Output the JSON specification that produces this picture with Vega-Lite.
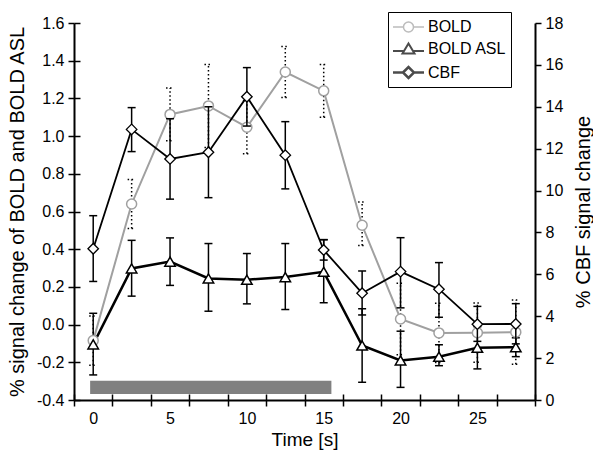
{
  "$schema": "https://vega.github.io/schema/vega-lite/v6.json",
  "width": 461,
  "height": 377,
  "autosize": {"type": "none"},
  "padding": {"left": 74, "top": 23, "right": 58, "bottom": 50},
  "background": "white",
  "config": {
    "font": "Liberation Sans",
    "view": {"stroke": null},
    "axis": {
      "domainColor": "black", "tickColor": "black", "labelColor": "black", "titleColor": "black",
      "grid": true, "gridColor": "black", "gridWidth": 1.5, "gridOpacity": 1, "gridDash": [6, 2000],
      "domainWidth": 2, "tickWidth": 1.5, "tickSize": 6,
      "labelFontSize": 16, "titleFontSize": 20, "titleFontWeight": "normal", "labelOverlap": false
    }
  },
  "datasets": {
    "d": [
      {"s": "BOLD", "t": 0, "v": -0.085, "lo": -0.215, "hi": 0.045},
      {"s": "BOLD", "t": 2.5, "v": 0.64, "lo": 0.51, "hi": 0.77},
      {"s": "BOLD", "t": 5, "v": 1.115, "lo": 0.975, "hi": 1.255},
      {"s": "BOLD", "t": 7.5, "v": 1.16, "lo": 0.94, "hi": 1.38},
      {"s": "BOLD", "t": 10, "v": 1.047, "lo": 0.907, "hi": 1.187},
      {"s": "BOLD", "t": 12.5, "v": 1.34, "lo": 1.205, "hi": 1.475},
      {"s": "BOLD", "t": 15, "v": 1.24, "lo": 1.1, "hi": 1.38},
      {"s": "BOLD", "t": 17.5, "v": 0.527, "lo": 0.42, "hi": 0.65},
      {"s": "BOLD", "t": 20, "v": 0.03, "lo": -0.16, "hi": 0.22},
      {"s": "BOLD", "t": 22.5, "v": -0.044, "lo": -0.201, "hi": 0.113},
      {"s": "BOLD", "t": 25, "v": -0.043, "lo": -0.2, "hi": 0.114},
      {"s": "BOLD", "t": 27.5, "v": -0.04, "lo": -0.21, "hi": 0.13},
      {"s": "BOLD_ASL", "t": 0, "v": -0.105, "lo": -0.267, "hi": 0.06},
      {"s": "BOLD_ASL", "t": 2.5, "v": 0.298, "lo": 0.151, "hi": 0.447},
      {"s": "BOLD_ASL", "t": 5, "v": 0.334, "lo": 0.208, "hi": 0.46},
      {"s": "BOLD_ASL", "t": 7.5, "v": 0.245, "lo": 0.071, "hi": 0.43},
      {"s": "BOLD_ASL", "t": 10, "v": 0.238, "lo": 0.11, "hi": 0.377},
      {"s": "BOLD_ASL", "t": 12.5, "v": 0.252, "lo": 0.08, "hi": 0.43},
      {"s": "BOLD_ASL", "t": 15, "v": 0.28, "lo": 0.116, "hi": 0.451},
      {"s": "BOLD_ASL", "t": 17.5, "v": -0.111, "lo": -0.306, "hi": 0.084},
      {"s": "BOLD_ASL", "t": 20, "v": -0.19, "lo": -0.333, "hi": -0.035},
      {"s": "BOLD_ASL", "t": 22.5, "v": -0.17, "lo": -0.218, "hi": -0.107},
      {"s": "BOLD_ASL", "t": 25, "v": -0.123, "lo": -0.235, "hi": -0.011},
      {"s": "BOLD_ASL", "t": 27.5, "v": -0.12, "lo": -0.17, "hi": -0.07},
      {"s": "CBF", "t": 0, "v": 7.22, "lo": 5.66, "hi": 8.8},
      {"s": "CBF", "t": 2.5, "v": 12.92, "lo": 11.86, "hi": 13.96},
      {"s": "CBF", "t": 5, "v": 11.51, "lo": 9.59, "hi": 13.43},
      {"s": "CBF", "t": 7.5, "v": 11.83, "lo": 9.66, "hi": 14.0},
      {"s": "CBF", "t": 10, "v": 14.48, "lo": 13.08, "hi": 15.87},
      {"s": "CBF", "t": 12.5, "v": 11.69, "lo": 10.08, "hi": 13.29},
      {"s": "CBF", "t": 15, "v": 7.16, "lo": 6.68, "hi": 7.65},
      {"s": "CBF", "t": 17.5, "v": 5.1, "lo": 4.06, "hi": 6.16},
      {"s": "CBF", "t": 20, "v": 6.13, "lo": 4.4, "hi": 7.75},
      {"s": "CBF", "t": 22.5, "v": 5.29, "lo": 3.95, "hi": 6.56},
      {"s": "CBF", "t": 25, "v": 3.62, "lo": 2.8, "hi": 4.47},
      {"s": "CBF", "t": 27.5, "v": 3.63, "lo": 2.68, "hi": 4.6}
    ]
  },
  "data": {"name": "d"},
  "layer": [
    {
      "layer": [
        {
          "data": {"values": [{"x1": -0.2, "x2": 15.5, "y1": -0.298, "y2": -0.368}]},
          "mark": {"type": "rect", "fill": "#808080"},
          "encoding": {
            "x": {
              "field": "x1", "type": "quantitative", "title": "Time [s]",
              "scale": {"domain": [-1.25, 28.75], "nice": false, "zero": false},
              "axis": {
                "values": [-1.25, 1.25, 3.75, 6.25, 8.75, 11.25, 13.75, 16.25, 18.75, 21.25, 23.75, 26.25, 28.75],
                "tickCount": 40,
                "labelExpr": "datum.value == 1.25 ? '0' : datum.value == 6.25 ? '5' : datum.value == 11.25 ? '10' : datum.value == 16.25 ? '15' : datum.value == 21.25 ? '20' : datum.value == 26.25 ? '25' : ''",
                "labelOffset": -19.2,
                "labelPadding": 4,
                "titlePadding": 4,
                "titleFontSize": 19,
                "labelFlush": false,
                "labelBound": false,
                "gridDash": [6, 371],
                "gridDashOffset": 6
              }
            },
            "x2": {"field": "x2"},
            "y": {
              "field": "y1", "type": "quantitative", "title": "% signal change of BOLD and BOLD ASL",
              "scale": {"domain": [-0.4, 1.6], "nice": false, "zero": false},
              "axis": {
                "values": [-0.4, -0.2, 0, 0.2, 0.4, 0.6, 0.8, 1.0, 1.2, 1.4, 1.6],
                "tickCount": 40,
                "labelExpr": "replace(format(datum.value, '.1f'), '\u2212', '-')",
                "labelPadding": 4,
                "titlePadding": 9
              }
            },
            "y2": {"field": "y2"}
          }
        },
        {
          "transform": [{"filter": "datum.s == 'BOLD'"}],
          "mark": {"type": "rule", "color": "black", "strokeWidth": 1.5, "strokeDash": [1.5, 2.5]},
          "encoding": {
            "x": {"field": "t", "type": "quantitative", "title": "Time [s]"},
            "y": {"field": "lo", "type": "quantitative", "title": "% signal change of BOLD and BOLD ASL"},
            "y2": {"field": "hi"}
          }
        },
        {
          "transform": [{"filter": "datum.s == 'BOLD'"}],
          "mark": {"type": "rule", "color": "black", "strokeWidth": 1.5, "strokeDash": [1.5, 2.5], "xOffset": -4, "x2Offset": 4},
          "encoding": {
            "x": {"field": "t", "type": "quantitative", "title": "Time [s]"},
            "x2": {"field": "t"},
            "y": {"field": "lo", "type": "quantitative", "title": "% signal change of BOLD and BOLD ASL"}
          }
        },
        {
          "transform": [{"filter": "datum.s == 'BOLD'"}],
          "mark": {"type": "rule", "color": "black", "strokeWidth": 1.5, "strokeDash": [1.5, 2.5], "xOffset": -4, "x2Offset": 4},
          "encoding": {
            "x": {"field": "t", "type": "quantitative", "title": "Time [s]"},
            "x2": {"field": "t"},
            "y": {"field": "hi", "type": "quantitative", "title": "% signal change of BOLD and BOLD ASL"}
          }
        },
        {
          "transform": [{"filter": "datum.s == 'BOLD_ASL'"}],
          "mark": {"type": "rule", "color": "black", "strokeWidth": 1.5},
          "encoding": {
            "x": {"field": "t", "type": "quantitative", "title": "Time [s]"},
            "y": {"field": "lo", "type": "quantitative", "title": "% signal change of BOLD and BOLD ASL"},
            "y2": {"field": "hi"}
          }
        },
        {
          "transform": [{"filter": "datum.s == 'BOLD_ASL'"}],
          "mark": {"type": "rule", "color": "black", "strokeWidth": 1.5, "xOffset": -4, "x2Offset": 4},
          "encoding": {
            "x": {"field": "t", "type": "quantitative", "title": "Time [s]"},
            "x2": {"field": "t"},
            "y": {"field": "lo", "type": "quantitative", "title": "% signal change of BOLD and BOLD ASL"}
          }
        },
        {
          "transform": [{"filter": "datum.s == 'BOLD_ASL'"}],
          "mark": {"type": "rule", "color": "black", "strokeWidth": 1.5, "xOffset": -4, "x2Offset": 4},
          "encoding": {
            "x": {"field": "t", "type": "quantitative", "title": "Time [s]"},
            "x2": {"field": "t"},
            "y": {"field": "hi", "type": "quantitative", "title": "% signal change of BOLD and BOLD ASL"}
          }
        },
        {
          "transform": [{"filter": "datum.s == 'BOLD'"}],
          "mark": {"type": "line", "color": "#a0a0a0", "strokeWidth": 2},
          "encoding": {
            "x": {"field": "t", "type": "quantitative", "title": "Time [s]"},
            "y": {"field": "v", "type": "quantitative", "title": "% signal change of BOLD and BOLD ASL"}
          }
        },
        {
          "transform": [{"filter": "datum.s == 'BOLD_ASL'"}],
          "mark": {"type": "line", "color": "black", "strokeWidth": 2.5},
          "encoding": {
            "x": {"field": "t", "type": "quantitative", "title": "Time [s]"},
            "y": {"field": "v", "type": "quantitative", "title": "% signal change of BOLD and BOLD ASL"}
          }
        },
        {
          "transform": [{"filter": "datum.s == 'BOLD'"}],
          "mark": {"type": "point", "shape": "circle", "size": 100, "filled": true, "fill": "white", "stroke": "#a0a0a0", "strokeWidth": 1.5, "opacity": 1},
          "encoding": {
            "x": {"field": "t", "type": "quantitative", "title": "Time [s]"},
            "y": {"field": "v", "type": "quantitative", "title": "% signal change of BOLD and BOLD ASL"}
          }
        },
        {
          "transform": [{"filter": "datum.s == 'BOLD_ASL'"}],
          "mark": {"type": "point", "shape": "triangle-up", "size": 110, "filled": true, "fill": "white", "stroke": "black", "strokeWidth": 1.5, "opacity": 1},
          "encoding": {
            "x": {"field": "t", "type": "quantitative", "title": "Time [s]"},
            "y": {"field": "v", "type": "quantitative", "title": "% signal change of BOLD and BOLD ASL"}
          }
        }
      ]
    },
    {
      "layer": [
        {
          "transform": [{"filter": "datum.s == 'CBF'"}],
          "mark": {"type": "rule", "color": "black", "strokeWidth": 1.5},
          "encoding": {
            "x": {"field": "t", "type": "quantitative", "title": "Time [s]"},
            "y": {
              "field": "lo", "type": "quantitative", "title": "% CBF signal change",
              "scale": {"domain": [0, 18], "nice": false, "zero": false},
              "axis": {
                "orient": "right",
                "values": [0, 2, 4, 6, 8, 10, 12, 14, 16, 18],
                "tickCount": 40,
                "format": "d",
                "labelPadding": 4,
                "titlePadding": 11,
                "titleAngle": -90,
                "titleBaseline": "top"
              }
            },
            "y2": {"field": "hi"}
          }
        },
        {
          "transform": [{"filter": "datum.s == 'CBF'"}],
          "mark": {"type": "rule", "color": "black", "strokeWidth": 1.5, "xOffset": -4, "x2Offset": 4},
          "encoding": {
            "x": {"field": "t", "type": "quantitative", "title": "Time [s]"},
            "x2": {"field": "t"},
            "y": {"field": "lo", "type": "quantitative", "title": "% CBF signal change"}
          }
        },
        {
          "transform": [{"filter": "datum.s == 'CBF'"}],
          "mark": {"type": "rule", "color": "black", "strokeWidth": 1.5, "xOffset": -4, "x2Offset": 4},
          "encoding": {
            "x": {"field": "t", "type": "quantitative", "title": "Time [s]"},
            "x2": {"field": "t"},
            "y": {"field": "hi", "type": "quantitative", "title": "% CBF signal change"}
          }
        },
        {
          "transform": [{"filter": "datum.s == 'CBF'"}],
          "mark": {"type": "line", "color": "black", "strokeWidth": 1.8},
          "encoding": {
            "x": {"field": "t", "type": "quantitative", "title": "Time [s]"},
            "y": {"field": "v", "type": "quantitative", "title": "% CBF signal change"}
          }
        },
        {
          "transform": [{"filter": "datum.s == 'CBF'"}],
          "mark": {"type": "point", "shape": "diamond", "size": 110, "filled": true, "fill": "white", "stroke": "black", "strokeWidth": 1.3, "opacity": 1},
          "encoding": {
            "x": {"field": "t", "type": "quantitative", "title": "Time [s]"},
            "y": {"field": "v", "type": "quantitative", "title": "% CBF signal change"}
          }
        },
        {
          "transform": [{"filter": "false"}],
          "mark": {"type": "point", "filled": false},
          "encoding": {
            "x": {"field": "t", "type": "quantitative", "title": "Time [s]"},
            "y": {"field": "v", "type": "quantitative", "title": "% CBF signal change"},
            "shape": {
              "field": "s", "type": "nominal",
              "scale": {
                "domain": ["BOLD", "BOLD_ASL", "CBF"],
                "range": [
                  "M-1.55,0H-0.5M0.5,0H1.55M0.5,0A0.5,0.5,0,1,1,-0.5,0A0.5,0.5,0,1,1,0.5,0Z",
                  "M-1.55,0.2H-0.45M0.45,0.2H1.55M0,-0.55L0.6,0.45L-0.6,0.45Z",
                  "M-1.55,0H-0.55M0.55,0H1.55M-0.55,0L0,-0.55L0.55,0L0,0.55Z"
                ]
              },
              "legend": {
                "title": null,
                "orient": "none",
                "legendX": 314,
                "legendY": -11,
                "padding": 4,
                "strokeColor": "black",
                "fillColor": "white",
                "symbolSize": 400,
                "symbolFillColor": "white",
                "symbolOffset": 5,
                "labelOffset": 8,
                "rowPadding": 3,
                "labelFontSize": 16,
                "labelColor": "black",
                "labelExpr": "datum.value == 'BOLD_ASL' ? 'BOLD ASL' : datum.value"
              }
            },
            "stroke": {
              "field": "s", "type": "nominal",
              "scale": {"domain": ["BOLD", "BOLD_ASL", "CBF"], "range": ["#a0a0a0", "black", "black"]}
            },
            "strokeWidth": {
              "field": "s", "type": "nominal",
              "scale": {"domain": ["BOLD", "BOLD_ASL", "CBF"], "range": [1.5, 2.5, 1.5]}
            }
          }
        }
      ]
    }
  ],
  "resolve": {"scale": {"y": "independent"}}
}
